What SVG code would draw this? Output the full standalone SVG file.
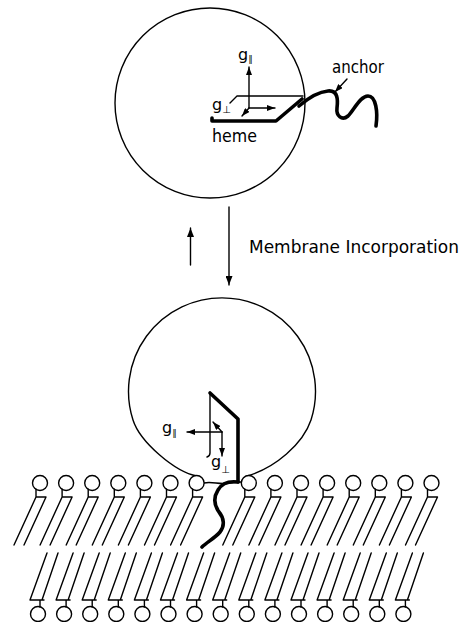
<svg xmlns="http://www.w3.org/2000/svg" xmlns:xlink="http://www.w3.org/1999/xlink" width="468" height="622" viewBox="0 0 468 622">
  <style>
    .thin { fill: none; stroke: #000; stroke-width: 1.4; stroke-linecap: round; stroke-linejoin: round; }
    .thick { fill: none; stroke: #000; stroke-width: 3.6; stroke-linecap: round; stroke-linejoin: round; }
    .head { fill: #fff; stroke: #000; stroke-width: 1.4; }
    .lbl { font-family: "DejaVu Sans", "Liberation Sans", sans-serif; fill: #000; }
  </style>
  <defs>
    <marker id="ah" markerUnits="userSpaceOnUse" markerWidth="9" markerHeight="6" refX="8" refY="3" orient="auto">
      <path d="M0,0 L8,3 L0,6 z" fill="#000"/>
    </marker>
    <marker id="ahBig" markerUnits="userSpaceOnUse" markerWidth="10" markerHeight="7" refX="9" refY="3.5" orient="auto">
      <path d="M0,0 L9,3.5 L0,7 z" fill="#000"/>
    </marker>
    <!-- lipid of the upper leaflet, head centre at origin -->
    <g id="lipidUp">
      <circle class="head" cx="0" cy="0" r="7.5"/>
      <path class="thin" d="M-4,6.3 V14 H6 L-16,62 M-4,14 L-26,62"/>
    </g>
    <!-- lipid of the lower leaflet, head centre at origin -->
    <g id="lipidDown">
      <circle class="head" cx="0" cy="0" r="7.5"/>
      <path class="thin" d="M6,-14 H-8 L9,-61 M4,-14 L20,-61 M2,-14 V-7"/>
    </g>
  </defs>

  <rect width="468" height="622" fill="#fff"/>

  <!-- free protein with heme and anchor -->
  <g id="protein-free">
    <circle class="thin" cx="210" cy="103" r="95"/>
    <!-- heme plane -->
    <path class="thin" d="M230,103 L237,96 H303"/>
    <path class="thick" d="M212,118 V121 H276 L302,99"/>
    <!-- anchor chain -->
    <path class="thick" d="M299,106 C306,100 316,92 328,91 C338,90 338,100 337,108 C336,116 342,121 348,116 C354,110 360,96 368,96 C376,96 378,112 376,126"/>
    <!-- g tensor axes -->
    <path class="thin" d="M249,108 V67" marker-end="url(#ah)"/>
    <path class="thin" d="M249,108 H275" marker-end="url(#ah)"/>
    <path class="thin" d="M249,108 L242,116" marker-end="url(#ah)"/>
    <text class="lbl" x="238" y="60" font-size="16">g<tspan font-size="9" dy="2">∥</tspan></text>
    <text class="lbl" x="212" y="110" font-size="16">g<tspan font-size="10" dy="3">⊥</tspan></text>
    <text class="lbl" x="212" y="142" font-size="17" textLength="45" lengthAdjust="spacingAndGlyphs">heme</text>
    <text class="lbl" x="332" y="73" font-size="17" textLength="52" lengthAdjust="spacingAndGlyphs">anchor</text>
    <path class="thin" d="M347,79 L335,92" marker-end="url(#ah)"/>
  </g>

  <!-- equilibrium arrows -->
  <g id="connectors">
    <path class="thin" d="M190.5,265 V228" marker-end="url(#ahBig)"/>
    <path class="thin" d="M229,207 V285" marker-end="url(#ahBig)"/>
  </g>
  <g id="step-label">
    <text class="lbl" x="249" y="253" font-size="17" textLength="210" lengthAdjust="spacingAndGlyphs">Membrane Incorporation</text>
  </g>

  <!-- protein bound to the membrane -->
  <g id="protein-bound">
    <path class="thin" d="M197,476 C175,472 140,442 133,420 A93.5,93.5 0 1 1 311,420 C303,444 275,468 247,476"/>
    <path class="thin" d="M204,483 C212,481 220,485 228,483 L241,482"/>
    <!-- heme plane, standing upright -->
    <path class="thin" d="M210,393 V453 Q210,456 207,457"/>
    <path class="thick" d="M210,393 L238,419 V482"/>
    <!-- anchor chain through the bilayer -->
    <path class="thick" d="M238,482 C230,481 222,483 218,490 C213,498 214,505 219,512 C224,518 225,526 220,532 C215,538 207,542 202,547"/>
    <!-- g tensor axes -->
    <path class="thin" d="M222,432 H187" marker-end="url(#ah)"/>
    <path class="thin" d="M222,432 V456" marker-end="url(#ah)"/>
    <path class="thin" d="M222,432 L213,422" marker-end="url(#ah)"/>
    <text class="lbl" x="162" y="433" font-size="16">g<tspan font-size="9" dy="3">∥</tspan></text>
    <text class="lbl" x="211" y="467" font-size="16">g<tspan font-size="10" dy="6">⊥</tspan></text>
  </g>

  <!-- lipid bilayer: upper leaflet -->
  <g id="bilayer-upper">
    <use xlink:href="#lipidUp" x="40" y="483"/>
    <use xlink:href="#lipidUp" x="66.1" y="483"/>
    <use xlink:href="#lipidUp" x="92.2" y="483"/>
    <use xlink:href="#lipidUp" x="118.3" y="483"/>
    <use xlink:href="#lipidUp" x="144.4" y="483"/>
    <use xlink:href="#lipidUp" x="170.5" y="483"/>
    <use xlink:href="#lipidUp" x="196.6" y="483"/>
    <use xlink:href="#lipidUp" x="248.8" y="483"/>
    <use xlink:href="#lipidUp" x="274.9" y="483"/>
    <use xlink:href="#lipidUp" x="301" y="483"/>
    <use xlink:href="#lipidUp" x="327.1" y="483"/>
    <use xlink:href="#lipidUp" x="353.2" y="483"/>
    <use xlink:href="#lipidUp" x="379.3" y="483"/>
    <use xlink:href="#lipidUp" x="405.4" y="483"/>
    <use xlink:href="#lipidUp" x="431.5" y="483"/>
  </g>

  <!-- lipid bilayer: lower leaflet -->
  <g id="bilayer-lower">
    <use xlink:href="#lipidDown" x="38" y="614"/>
    <use xlink:href="#lipidDown" x="64.1" y="614"/>
    <use xlink:href="#lipidDown" x="90.2" y="614"/>
    <use xlink:href="#lipidDown" x="116.3" y="614"/>
    <use xlink:href="#lipidDown" x="142.4" y="614"/>
    <use xlink:href="#lipidDown" x="168.5" y="614"/>
    <use xlink:href="#lipidDown" x="194.6" y="614"/>
    <use xlink:href="#lipidDown" x="220.7" y="614"/>
    <use xlink:href="#lipidDown" x="246.8" y="614"/>
    <use xlink:href="#lipidDown" x="272.9" y="614"/>
    <use xlink:href="#lipidDown" x="299" y="614"/>
    <use xlink:href="#lipidDown" x="325.1" y="614"/>
    <use xlink:href="#lipidDown" x="351.2" y="614"/>
    <use xlink:href="#lipidDown" x="377.3" y="614"/>
    <use xlink:href="#lipidDown" x="403.4" y="614"/>
  </g>
</svg>
